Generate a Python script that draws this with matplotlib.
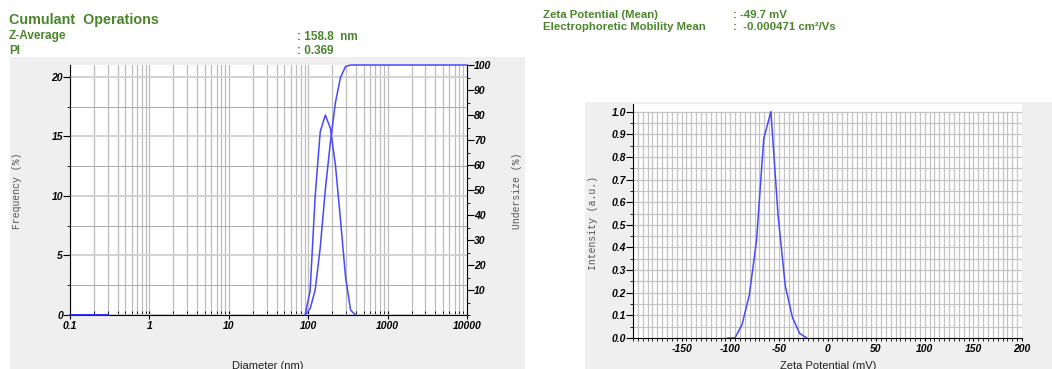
import numpy as np
import matplotlib.pyplot as plt
from matplotlib.patches import Rectangle
from matplotlib.ticker import MultipleLocator, NullFormatter, LogLocator

plt.rcParams['font.family'] = ['Liberation Sans', 'DejaVu Sans']

# size distribution
diameter = [91.3, 105.7, 122.4, 141.8, 164.2, 190.1, 220.2, 255.0, 295.3, 342.0, 396.1]
frequency = [0, 2.0, 10.0, 15.4, 16.8, 15.7, 12.6, 8.0, 3.2, 0.4, 0]
cum_diameter = [91.3, 105.7, 122.4, 141.8, 164.2, 190.1, 220.2, 255.0, 295.3, 342.0, 10000]
undersize = [0, 2.5, 10, 27, 50, 69, 85, 95, 99.4, 100, 100]
low_diameter = [0.1, 0.3]
low_frequency = [0, 0]

# zeta potential distribution
zeta = [-102.6, -95.2, -87.8, -80.4, -73.0, -65.6, -58.2, -50.8, -43.4, -36.0, -28.6, -21.2]
intensity = [0, 0, 0.06, 0.19, 0.43, 0.88, 1.0, 0.54, 0.23, 0.09, 0.02, 0]

size_ticks = [0.1, 1, 10, 100, 1000, 10000]
size_labels = ['0.1', '1', '10', '100', '1000', '10000']
freq_ticks = [0, 5, 10, 15, 20]
under_ticks = [10, 20, 30, 40, 50, 60, 70, 80, 90, 100]
zeta_ticks = [-150, -100, -50, 0, 50, 100, 150, 200]
int_ticks = [0.0, 0.1, 0.2, 0.3, 0.4, 0.5, 0.6, 0.7, 0.8, 0.9, 1.0]

W, H = 1052, 369
green = '#4a852c'
blue = '#4848ff'
tickfont = dict(fontsize=7.5, fontweight='bold', fontstyle='italic')


def box(x0, y0, x1, y1):
    return [x0 / W, 1 - y1 / H, (x1 - x0) / W, (y1 - y0) / H]


fig = plt.figure(figsize=(W / 100, H / 100), dpi=100)
fig.add_artist(Rectangle((10 / W, 0), 515 / W, (H - 57) / H, transform=fig.transFigure,
                         facecolor='#efefef', edgecolor='none', zorder=0))
fig.add_artist(Rectangle((585 / W, 0), (W - 585) / W, (H - 102) / H, transform=fig.transFigure,
                         facecolor='#efefef', edgecolor='none', zorder=0))

# header text
fig.text(9 / W, 1 - 24 / H, 'Cumulant  Operations', fontsize=10.4, fontweight='bold', color=green)
fig.text(9 / W, 1 - 39.5 / H, 'Z-Average', fontsize=8.5, fontweight='bold', color=green)
fig.text(9 / W, 1 - 53.5 / H, 'PI', fontsize=8.5, fontweight='bold', color=green)
fig.text(297 / W, 1 - 39.5 / H, ': 158.8  nm', fontsize=8.5, fontweight='bold', color=green)
fig.text(297 / W, 1 - 53.5 / H, ': 0.369', fontsize=8.5, fontweight='bold', color=green)
fig.text(543 / W, 1 - 18.5 / H, 'Zeta Potential (Mean)', fontsize=8.2, fontweight='bold', color=green)
fig.text(543 / W, 1 - 30.5 / H, 'Electrophoretic Mobility Mean', fontsize=8.2, fontweight='bold', color=green)
fig.text(733 / W, 1 - 18.5 / H, ': -49.7 mV', fontsize=8.2, fontweight='bold', color=green)
fig.text(733 / W, 1 - 30.5 / H, ':  -0.000471 cm²/Vs', fontsize=8.2, fontweight='bold', color=green)

# ---- size plot
ax1 = fig.add_axes(box(70, 65, 467, 315))
ax1.set_xscale('log')
ax1.set_xlim(0.1, 10000)
ax1.set_ylim(0, 21)
ax1.set_facecolor('white')
ax1.xaxis.set_minor_locator(LogLocator(base=10, subs=np.arange(2, 10)))
ax1.xaxis.set_minor_formatter(NullFormatter())
ax1.set_xticks(size_ticks, size_labels, **tickfont)
ax1.set_yticks(freq_ticks, [str(t) for t in freq_ticks], **tickfont)
ax1.yaxis.set_minor_locator(MultipleLocator(2.5))
ax1.grid(which='both', axis='x', color='#bdbdbd', lw=0.9)
ax1.grid(which='major', axis='y', color='#d2d2d2', lw=1.4)
ax1.grid(which='minor', axis='y', color='#a9a9a9', lw=0.7)
ax1.tick_params(axis='x', which='major', direction='inout', length=6, pad=1)
ax1.tick_params(axis='x', which='minor', direction='in', length=3)
ax1.tick_params(axis='y', which='major', direction='out', length=5, pad=0)
ax1.tick_params(axis='y', which='minor', direction='out', length=2.5)
for s in ['top', 'right']:
    ax1.spines[s].set_visible(False)

ax2 = ax1.twinx()
ax2.set_ylim(0, 100)
ax2.set_yticks(under_ticks, [str(t) for t in under_ticks], **tickfont)
ax2.yaxis.set_minor_locator(MultipleLocator(5))
ax2.tick_params(axis='y', which='major', direction='out', length=5, pad=0)
ax2.tick_params(axis='y', which='minor', direction='out', length=2.5)
for s in ['top', 'left', 'bottom']:
    ax2.spines[s].set_visible(False)

ax1.plot(diameter, frequency, color=blue, lw=1.1, zorder=3)
ax1.plot(low_diameter, low_frequency, color='#2020ff', lw=1.3, zorder=4, clip_on=False)
ax2.plot(cum_diameter, undersize, color=blue, lw=1.1, zorder=3, clip_on=False)

fig.text(17 / W, 1 - 191 / H, 'Frequency (%)', rotation=90, ha='center', va='center',
         family='Liberation Mono', fontsize=7, color='#555555')
fig.text(517 / W, 1 - 191 / H, 'Undersize (%)', rotation=90, ha='center', va='center',
         family='Liberation Mono', fontsize=7, color='#555555')
fig.text(268 / W, 1 - 361 / H, 'Diameter (nm)', ha='center', va='top', fontsize=8, color='#222222')

# ---- zeta plot
ax3 = fig.add_axes(box(633, 104, 1022, 338))
ax3.set_xlim(-200, 200)
ax3.set_ylim(0, 1.034)
ax3.set_facecolor('white')
ax3.vlines(np.arange(-195, 201, 5), 0, 1, colors='#c4c4c4', lw=0.9, zorder=1)
ax3.hlines(np.arange(0.05, 1.01, 0.05), -200, 200, colors='#c4c4c4', lw=0.9, zorder=1)
ax3.set_xticks(zeta_ticks, [str(t) for t in zeta_ticks], **tickfont)
ax3.xaxis.set_minor_locator(MultipleLocator(5))
ax3.set_yticks(int_ticks, ['%.1f' % t for t in int_ticks], **tickfont)
ax3.yaxis.set_minor_locator(MultipleLocator(0.05))
ax3.tick_params(axis='x', which='both', direction='out', length=2.5, pad=2)
ax3.tick_params(axis='y', which='major', direction='out', length=5, pad=0)
ax3.tick_params(axis='y', which='minor', direction='out', length=2.5)
for s in ['top', 'right']:
    ax3.spines[s].set_visible(False)
ax3.plot(zeta, intensity, color=blue, lw=1.1, zorder=3)

fig.text(593 / W, 1 - 223 / H, 'Intensity (a.u.)', rotation=90, ha='center', va='center',
         family='Liberation Mono', fontsize=7, color='#555555')
fig.text(828 / W, 1 - 361 / H, 'Zeta Potential (mV)', ha='center', va='top', fontsize=8, color='#222222')

fig.savefig('out.png', dpi=100)
